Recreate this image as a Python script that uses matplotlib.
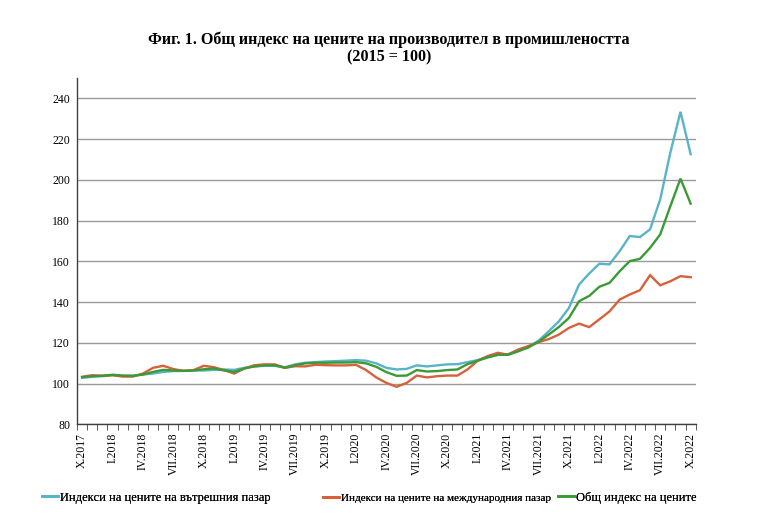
import numpy as np
import matplotlib.pyplot as plt
from matplotlib.lines import Line2D

plt.rcParams['font.family'] = ['Liberation Serif', 'DejaVu Serif']

# monthly indices, X.2017 .. X.2022 (2015 = 100)
domestic = [102.8, 103.3, 103.6, 104.1, 103.8, 103.8, 104.4, 104.9, 105.7, 106.1,
            106.2, 106.4, 106.4, 106.7, 106.9, 106.7, 107.7, 108.4, 108.7, 108.7,
            108.0, 109.4, 110.2, 110.5, 110.8, 111.0, 111.2, 111.5, 111.2, 109.9,
            107.7, 106.9, 107.2, 108.9, 108.4, 108.9, 109.4, 109.5, 110.5, 111.5,
            113.1, 114.1, 114.4, 116.4, 118.0, 121.0, 125.6, 130.5, 137.1, 148.6,
            154.0, 158.8, 158.5, 165.0, 172.4, 171.9, 175.7, 190.4, 213.4, 233.4,
            212.6]
foreign = [103.3, 104.1, 103.8, 104.1, 103.4, 103.4, 104.9, 107.7, 108.7, 107.1,
           106.2, 106.6, 108.7, 108.0, 106.6, 104.9, 107.4, 109.0, 109.4, 109.4,
           107.7, 108.5, 108.4, 109.2, 109.0, 108.9, 108.9, 109.2, 106.6, 103.0,
           100.3, 98.4, 100.3, 103.9, 103.0, 103.6, 103.9, 103.9, 106.9, 111.2,
           113.5, 115.1, 114.1, 116.7, 118.4, 120.3, 121.8, 124.0, 127.3, 129.4,
           127.7, 131.5, 135.4, 141.2, 143.7, 145.8, 153.2, 148.2, 150.2, 152.7,
           152.2]
total = [103.1, 103.6, 103.8, 104.3, 103.9, 103.8, 104.4, 105.7, 106.7, 106.4,
         106.2, 106.4, 107.0, 107.4, 106.4, 105.7, 107.4, 108.4, 108.9, 108.9,
         107.7, 109.0, 109.9, 110.2, 110.2, 110.3, 110.3, 110.5, 109.9, 108.2,
         105.6, 103.8, 103.9, 106.6, 105.9, 106.1, 106.6, 106.9, 109.5, 111.2,
         112.8, 114.1, 114.1, 115.8, 117.7, 120.5, 124.0, 127.7, 132.2, 140.4,
         143.0, 147.5, 149.4, 155.1, 160.1, 161.2, 166.6, 173.2, 187.1, 200.6,
         188.3]

tick_labels = ["X.2017", "I.2018", "IV.2018", "VII.2018", "X.2018", "I.2019",
               "IV.2019", "VII.2019", "X.2019", "I.2020", "IV.2020", "VII.2020",
               "X.2020", "I.2021", "IV.2021", "VII.2021", "X.2021", "I.2022",
               "IV.2022", "VII.2022", "X.2022"]

names = ["Индекси на цените на вътрешния пазар",
         "Индекси на цените на международния пазар",
         "Общ индекс на цените"]
colors = ['#5AB3C9', '#D6613A', '#3A9B35']

x = np.arange(len(domestic))

fig = plt.figure(figsize=(7.75, 5.29), dpi=100)
ax = fig.add_axes([0.0994, 0.198, 0.7983, 0.6546])

for ys, c in zip([domestic, foreign, total], colors):
    ax.plot(x, ys, color=c, lw=1.7, solid_joinstyle='miter')

ax.set_xlim(-0.5, len(x) - 0.5)
ax.set_ylim(80, 250)
ax.set_yticks(np.arange(80, 241, 20))
ax.yaxis.grid(True, color='#9a9a9a', lw=1)
ax.set_axisbelow(True)
ax.tick_params(axis='y', length=0, labelsize=8.5, pad=5)

ax.set_xticks(x[::3])
ax.set_xticklabels(tick_labels, rotation=90, fontsize=8.5)
ax.set_xticks(np.arange(-0.5, len(x)), minor=True)
ax.tick_params(axis='x', which='major', length=0, pad=6)
ax.tick_params(axis='x', which='minor', length=4, color='#404040')

for s in ['top', 'right']:
    ax.spines[s].set_visible(False)
for s in ['left', 'bottom']:
    ax.spines[s].set_color('#404040')
    ax.spines[s].set_linewidth(1)

fig.text(0.502, 0.924, "Фиг. 1. Общ индекс на цените на производител в промишлеността",
         ha='center', va='center', fontsize=11.6, fontweight='bold')
fig.text(0.502, 0.891, "(2015 = 100)", ha='center', va='center',
         fontsize=11.6, fontweight='bold')

# legend entries placed one by one, like the original
for name, c, xl, fs in zip(names, colors, [0.054, 0.417, 0.72], [9, 8, 9]):
    h = Line2D([], [], color=c, lw=2)
    lg = fig.legend([h], [name], loc='center left', bbox_to_anchor=(xl, 0.059),
                    frameon=False, fontsize=fs, handlelength=1.3 * 9 / fs,
                    handletextpad=0.15, borderpad=0, borderaxespad=0)
    fig.add_artist(lg)

fig.savefig("out.png", dpi=100)
